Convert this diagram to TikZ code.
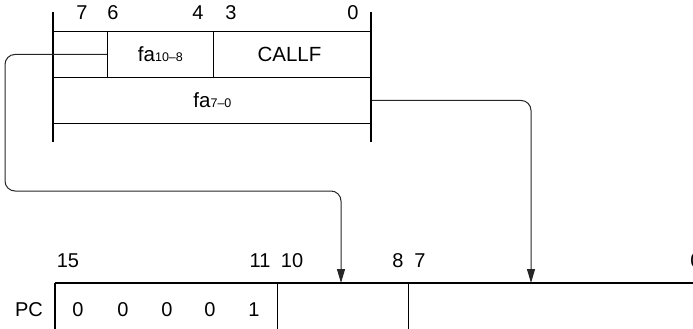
\documentclass[tikz,border=0pt]{standalone}
\usepackage{fontspec}
\setmainfont{Liberation Sans}
\usetikzlibrary{arrows.meta}
\begin{document}
\begin{tikzpicture}[x=1pt,y=-1pt,
  thickrule/.style={line width=2.6pt},
  cell/.style={draw, line width=0.9pt, inner sep=0pt, anchor=north west, font=\fontsize{20.5}{24}\selectfont},
  lbl/.style={inner sep=0pt, font=\fontsize{20}{24}\selectfont},
  link/.style={line width=1pt, draw=black!85, rounded corners=10pt, -{Triangle[length=14pt,width=8pt]}},
]
\useasboundingbox (0,0) rectangle (693,329);
\newcommand{\subtxt}[1]{{\fontsize{12.5}{12.5}\selectfont #1}}
% upper instruction word
\node[cell, minimum width=54pt, minimum height=46pt] (c76) at (53,31) {};
\node[cell, minimum width=106pt, minimum height=46pt] (c64) at (107,31) {fa\subtxt{10\textendash 8}};
\node[cell, minimum width=158pt, minimum height=46pt] (c30) at (213,31) {\hspace{-6pt}CALLF};
\node[cell, minimum width=318pt, minimum height=46pt] (c70) at (53,77) {fa\subtxt{7\textendash 0}};
\draw[thickrule] (53,12) -- (53,142);
\draw[thickrule] (371,12) -- (371,142);
\node[lbl] (u7) at (82,13) {7};
\node[lbl] (u6) at (113,13) {6};
\node[lbl] (u4) at (198,13) {4};
\node[lbl] (u3) at (231,13) {3};
\node[lbl] (u0) at (353,13) {0};
% PC register
\node[cell, minimum width=222pt, minimum height=60pt] (p15) at (55,283) {};
\node[cell, minimum width=131pt, minimum height=60pt] (p10) at (277,283) {};
\node[cell, minimum width=300pt, minimum height=60pt] (p7) at (408,283) {};
\draw[thickrule] (55,283) -- (55,340);
\draw[thickrule] (55,283) -- (710,283);
\node[lbl] (pc) at (29,310) {PC};
\node[lbl] (d1) at (78,310) {0};
\node[lbl] (d2) at (123,310) {0};
\node[lbl] (d3) at (167,310) {0};
\node[lbl] (d4) at (210,310) {0};
\node[lbl] (d5) at (254,310) {1};
\node[lbl] (b15) at (68,261) {15};
\node[lbl] (b11) at (260,261) {11};
\node[lbl] (b10) at (292,261) {10};
\node[lbl] (b8) at (398,261) {8};
\node[lbl] (b7) at (420,261) {7};
\node[lbl] (b0) at (696,261) {0};
% connectors
\coordinate (t1) at (341,283);
\coordinate (t2) at (531,283);
\coordinate (bend1) at (5,191);
\draw[link] (c64.west) -| (bend1) -| (t1);
\draw[link] (c70.east) -| (t2);
\end{tikzpicture}
\end{document}
